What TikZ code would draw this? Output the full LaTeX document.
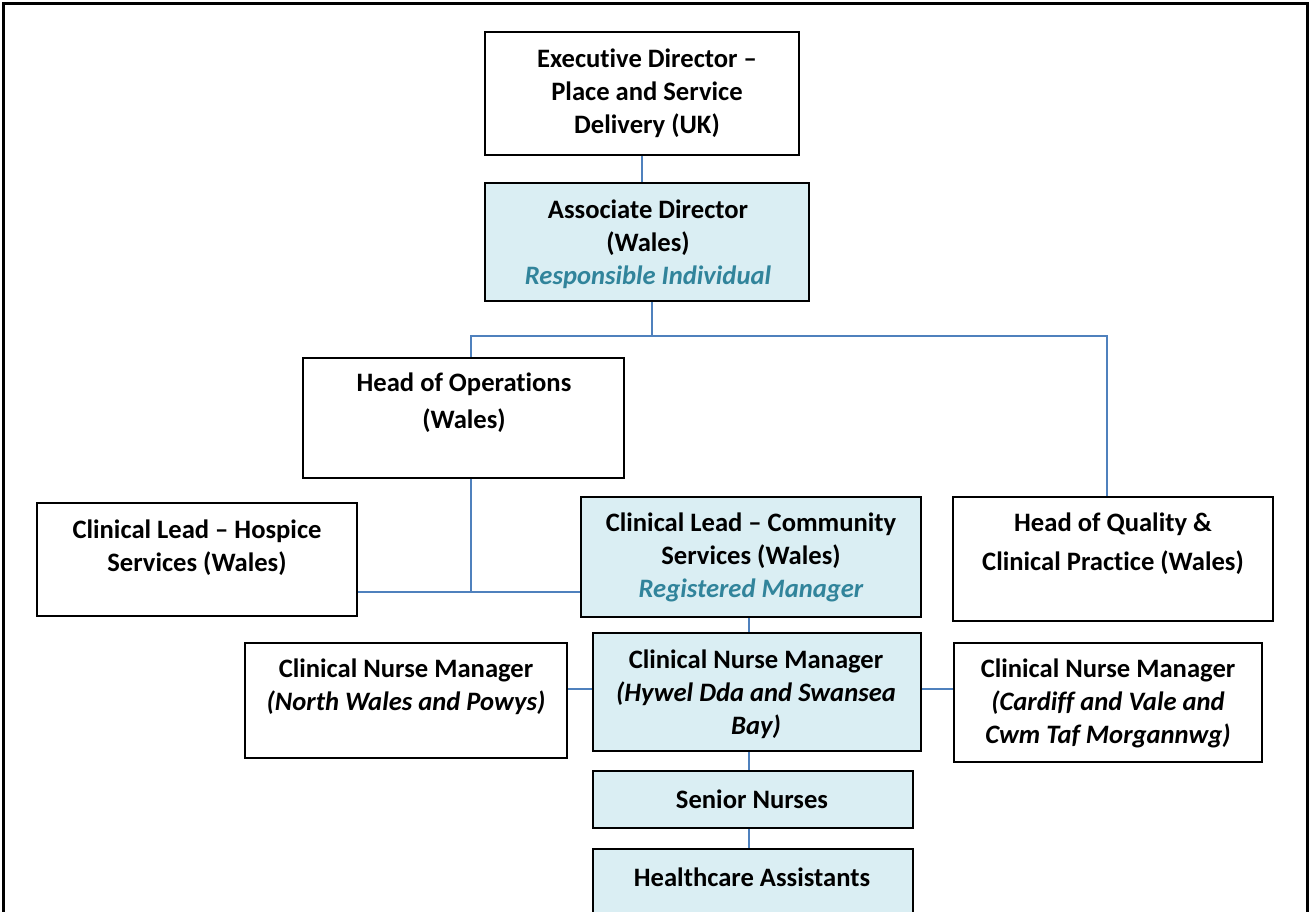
\documentclass[tikz,border=0pt]{standalone}
\usepackage{fontspec}
\setmainfont{Carlito}[Ligatures=NoCommon]
\definecolor{boxblue}{HTML}{DAEEF3}
\definecolor{connblue}{HTML}{4F81BD}
\definecolor{teal}{HTML}{31849B}
\tikzset{
  orgbox/.style={draw=black, line width=2pt, inner sep=0pt, rectangle},
  bluebox/.style={orgbox, fill=boxblue},
  txt/.style={align=center, inner sep=0pt, font=\fontsize{26.6}{33}\selectfont\bfseries},
  conn/.style={draw=connblue, line width=2pt},
}
\newcommand{\ital}[1]{{\itshape #1}}
\begin{document}
\begin{tikzpicture}[x=1pt,y=-1pt]
\useasboundingbox (0,0) rectangle (1311,912);
\fill[white] (0,0) rectangle (1311,912);
\draw[line width=3pt] (3,916) -- (3,4) -- (1307,4) -- (1307,916);

% boxes
\node[orgbox, minimum width=314pt, minimum height=123pt] (exec) at (642,93.5) {};
\node[bluebox, minimum width=324pt, minimum height=118pt] (assoc) at (647,242) {};
\node[orgbox, minimum width=321pt, minimum height=120pt] (hops) at (463.5,418) {};
\node[orgbox, minimum width=320pt, minimum height=113pt] (hosp) at (197,559.5) {};
\node[bluebox, minimum width=340pt, minimum height=120pt] (comm) at (751,557) {};
\node[orgbox, minimum width=320pt, minimum height=124pt] (hq) at (1113,559) {};
\node[orgbox, minimum width=322pt, minimum height=115pt] (north) at (406,700.5) {};
\node[bluebox, minimum width=328pt, minimum height=118pt] (hywel) at (757,692) {};
\node[orgbox, minimum width=308pt, minimum height=119pt] (cardiff) at (1108,702.5) {};
\node[bluebox, minimum width=320pt, minimum height=57pt] (senior) at (753,799.5) {};
\node[bluebox, minimum width=320pt, minimum height=68pt] (hca) at (753,883) {};

% texts
\node[txt] (exect) at (647,93) {Executive Director –\\Place and Service\\Delivery (UK)};
\node[txt] (assoct) at (648,244.5) {Associate Director\\(Wales)\\\textcolor{teal}{\ital{Responsible Individual}}};
\node[txt, font=\fontsize{26.6}{37}\selectfont\bfseries] (hopst) at (464,402.5) {Head of Operations\\(Wales)};
\node[txt] (hospt) at (197,547.5) {Clinical Lead – Hospice\\Services (Wales)};
\node[txt] (commt) at (751,557.5) {Clinical Lead – Community\\Services (Wales)\\\textcolor{teal}{\ital{Registered Manager}}};
\node[txt, font=\fontsize{26.6}{39}\selectfont\bfseries] (hqt) at (1113,543.5) {Head of Quality \&\\Clinical Practice (Wales)};
\node[txt] (northt) at (406,686.5) {Clinical Nurse Manager\\\ital{(North Wales and Powys)}};
\node[txt] (hywelt) at (756,694.5) {Clinical Nurse Manager\\\ital{(Hywel Dda and Swansea}\\\ital{Bay)}};
\node[txt] (cardifft) at (1108,703.5) {Clinical Nurse Manager\\\ital{(Cardiff and Vale and}\\\ital{Cwm Taf Morgannwg)}};
\node[txt] (seniort) at (752,799) {Senior Nurses};
\node[txt] (hcat) at (752,877) {Healthcare Assistants};

% connectors
\draw[conn] (exec.south) -- (exec.south |- assoc.north);
\draw[conn] ([xshift=5pt]assoc.south) -- ++(0,34) coordinate (bus);
\draw[conn] ([xshift=7.5pt]hops.north) -- ([xshift=7.5pt]hops.north |- bus) -- ([xshift=-6pt]hq.north |- bus) -- ([xshift=-6pt]hq.north);
\draw[conn] ([xshift=7.5pt]hops.south) -- ++(0,113) coordinate (join);
\draw[conn] (hosp.east |- join) -- (comm.west |- join);
\draw[conn] ([xshift=-2pt]comm.south) -- ([xshift=-2pt]comm.south |- hywel.north);
\coordinate (hwl) at ([yshift=3pt]hywel.west);
\coordinate (hwr) at ([yshift=3pt]hywel.east);
\draw[conn] (hwl) -- (north.east |- hwl);
\draw[conn] (hwr) -- (cardiff.west |- hwr);
\draw[conn] ([xshift=-8pt]hywel.south) -- ([xshift=-8pt]hywel.south |- senior.north);
\draw[conn] ([xshift=-4pt]senior.south) -- ([xshift=-4pt]senior.south |- hca.north);
\end{tikzpicture}
\end{document}
